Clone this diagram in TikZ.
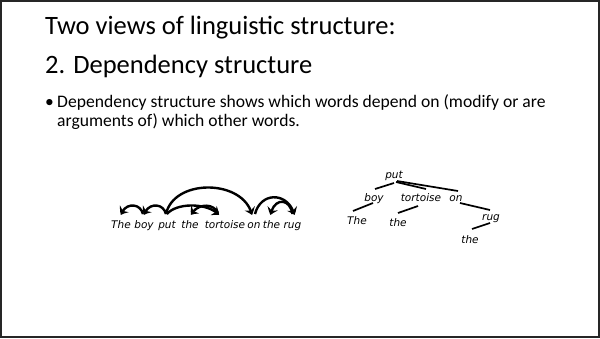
\documentclass[tikz,border=0pt]{standalone}
\usepackage{fontspec}
\setmainfont{Carlito}
\newfontfamily\wordfont{DejaVu Sans}
\usetikzlibrary{arrows.meta,bending}

\begin{document}
\begin{tikzpicture}[x=1pt,y=-1pt,
  titletext/.style={anchor=base west,inner sep=0pt,font=\fontsize{26.5}{30}\selectfont},
  bodytext/.style={anchor=base west,inner sep=0pt,font=\fontsize{17.6}{20}\selectfont},
  word/.style={anchor=base,inner sep=0pt,text height=8pt,text depth=2.5pt,
    font=\wordfont\itshape\fontsize{10.5}{12}\selectfont},
  dep/.style={line width=2.4pt,
    -{Stealth[length=7pt,width=11pt,inset=2.5pt,bend]}},
  treeline/.style={line width=1.7pt}]

\useasboundingbox (0,0) rectangle (600,338);
\draw[line width=2.4pt,black!85] (1.2,1.2) rectangle (598.8,336.8);

% heading and bullet
\node[titletext] (t1) at (45,34) {Two views of linguistic structure:};
\node[titletext] (t2) at (45,73) {2. Dependency structure};
\node[bodytext] (bul) at (45,107) {\textbullet};
\node[bodytext] (b1) at (57,107) {Dependency structure shows which words depend on (modify or are};
\node[bodytext] (b2) at (57,126) {arguments of) which other words.};

% sentence with dependency arcs
\node[word] (s1) at (121,228) {The};
\node[word] (s2) at (144,228) {boy};
\node[word] (s3) at (167,228) {put};
\node[word] (s4) at (190,228) {the};
\node[word] (s5) at (225,228) {tortoise};
\node[word] (s6) at (254,228) {on};
\node[word] (s7) at (271.5,228) {the};
\node[word] (s8) at (292.5,228) {rug};

\draw[dep] ([shift={(-1,-14)}]s2.base) .. controls +(-3,-12) and +(3,-12) .. ([shift={(0,-13)}]s1.base);
\draw[dep] ([shift={(-1,-14)}]s3.base) .. controls +(-3,-12) and +(3,-12) .. ([shift={(0,-13)}]s2.base);
\draw[dep] ([shift={(0,-14)}]s3.base) .. controls +(10,-12) and +(-10,-12) .. ([shift={(-6,-13)}]s5.base);
\draw[dep] ([shift={(-7,-15)}]s5.base) .. controls +(-5,-11) and +(5,-11) .. ([shift={(1,-13)}]s4.base);
\draw[dep] ([shift={(-1,-14)}]s3.base) .. controls +(8,-36) and +(-8,-36) .. ([shift={(-2,-13)}]s6.base);
\draw[dep] ([shift={(1,-14)}]s6.base) .. controls +(6,-23) and +(-6,-23) .. ([shift={(2,-13)}]s8.base);
\draw[dep] ([shift={(0,-14)}]s8.base) .. controls +(-3,-17) and +(3,-17) .. ([shift={(-1,-13)}]s7.base);

% the same analysis as a tree
\node[word] (put) at (394,178) {put};
\node[word] (boy) at (374,201) {boy};
\node[word] (tor) at (421,201) {tortoise};
\node[word] (on)  at (456,201) {on};
\node[word] (The) at (357,224) {The};
\node[word] (the1) at (398,226) {the};
\node[word] (rug) at (491,220) {rug};
\node[word] (the2) at (470,243) {the};

\draw[treeline] ([shift={(0,5)}]put.base) -- ([shift={(1,-12)}]boy.base);
\draw[treeline] ([shift={(2,4)}]put.base) -- ([shift={(5,-12)}]tor.base);
\draw[treeline] ([shift={(3,3)}]put.base) -- ([shift={(2,-10)}]on.base);
\draw[treeline] ([shift={(-1,2)}]boy.base) -- ([shift={(-4,-13)}]The.base);
\draw[treeline] ([shift={(-3,5)}]tor.base) -- ([shift={(0,-13)}]the1.base);
\draw[treeline] ([shift={(4,2)}]on.base) -- ([shift={(-1,-10)}]rug.base);
\draw[treeline] ([shift={(-1,3)}]rug.base) -- ([shift={(2,-14)}]the2.base);
\end{tikzpicture}
\end{document}
